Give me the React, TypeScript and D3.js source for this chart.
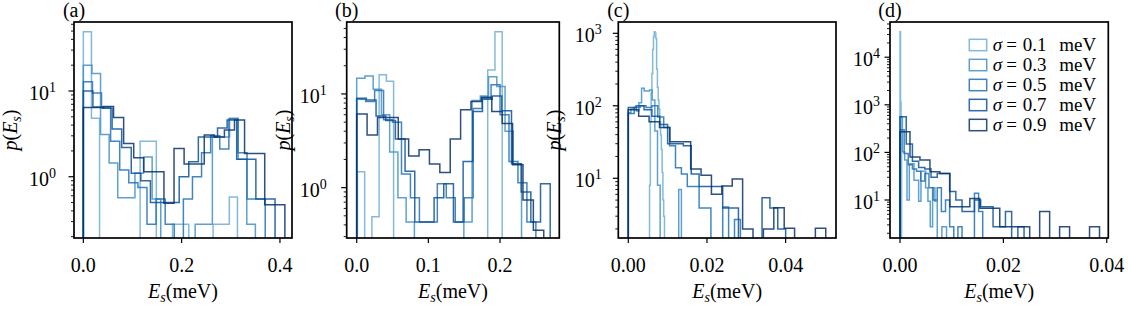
import React from "react";
import * as d3 from "d3";

// legend entries (sigma in meV)
const sigmas = ["0.1", "0.3", "0.5", "0.7", "0.9"];

// each series: bin range [lo, hi] split into equal bins, heights p(E_s) per bin
// panel (a)
const rangesA = [[0, 0.33], [0, 0.35], [0, 0.37], [0, 0.39], [0, 0.41]];
const heightsA = [
  [49, 4.8, 0, 0, 0, 0, 0, 2.6, 2.6, 0, 0, 0.28, 0.28, 0, 0, 0, 0.28, 0.28, 0.58, 0],
  [20, 16, 3.1, 1.45, 0.57, 0.57, 1.1, 1.7, 0.55, 0, 0, 0, 0, 0.28, 0.28, 2.9, 2.9, 4.8, 1.6, 0.28],
  [12.8, 9.5, 6.4, 2.6, 1.2, 0.85, 0.75, 0.28, 0.55, 0.28, 0, 0.55, 1.0, 1.9, 3.0, 2.1, 4.7, 1.9, 0.55, 0.55],
  [10, 6.5, 6.3, 3.6, 2.2, 1.1, 0.9, 0.5, 0.5, 0.5, 1.0, 1.5, 2.9, 2.9, 3.7, 4.6, 1.6, 1.6, 0.55, 0.55],
  [6.4, 6.4, 6.6, 4.9, 2.45, 1.67, 1.14, 1.14, 0.49, 2.14, 1.41, 1.41, 3.07, 2.9, 3.5, 4.6, 1.87, 1.87, 0.47, 0.47],
];

// panel (b)
const rangesB = [[0.001, 0.203], [0, 0.23], [0, 0.25], [0, 0.27], [0, 0.261]];
const heightsB = [
  [1.48, 0, 0.49, 16, 13.7, 0, 0, 0, 0, 0, 0, 0, 0, 0, 0, 0, 0, 0, 18, 46],
  [14.7, 15.5, 11.2, 6.0, 2.4, 0.78, 0.43, 0, 0, 0, 0, 0, 0, 0.43, 8.5, 9.5, 15.3, 12, 4, 1.8],
  [8.8, 8.3, 10.9, 5.3, 5.0, 1.4, 0.78, 0.43, 0.43, 1.1, 0.78, 0.43, 0.78, 7.0, 9.0, 12.5, 6.0, 1.9, 1.13, 0.43],
  [9, 8.6, 5.8, 5.2, 3.3, 1.5, 0.43, 0.43, 0.78, 1.1, 0.43, 1.9, 6.5, 8.8, 9.5, 6.6, 1.8, 0.9, 0.43, 1.1],
  [6.1, 3.65, 5.6, 5.6, 3.3, 2.18, 2.53, 1.79, 1.45, 3.3, 6.8, 8.3, 9.2, 6.5, 4.85, 1.75, 0.74, 0.35],
];

// panel (c)
const rangesC = [[0.0052, 0.0092], [0, 0.0135], [0, 0.03], [0, 0.04], [0, 0.0502]];
const heightsC = [
  [0, 8, 60, 150, 280, 600, 900, 1050, 1000, 850, 320, 180, 120, 90, 60, 40, 25, 12, 5, 3],
  [80, 90, 95, 85, 110, 175, 160, 160, 165, 120, 45, 8, 0, 0, 0, 0, 0, 0, 0, 7],
  [78, 95, 100, 95, 100, 70, 50, 28, 14, 11.5, 7.7, 7.7, 3.9, 3.9, 0, 0, 4.0, 0, 2.7, 0],
  [95, 100, 88, 72, 55, 30, 30, 28, 11.5, 7.7, 7.7, 7.7, 3.9, 3.9, 0, 0, 0, 5.4, 3.9, 2.0],
  [88, 72, 60, 50, 32, 32, 13.4, 11, 6, 7.8, 9.8, 2.0, 0, 2.0, 3.93, 2.04, 0, 0, 2.04],
];

// panel (d)
const rangesD = [[0, 0.0006], [0, 0.009], [0, 0.016], [0, 0.024], [0, 0.0386]];
const heightsD = [
  [34400, 1150, 280, 0, 0, 0],
  [560, 103, 69, 10, 58, 58, 26, 26, 9.4, 40, 40, 18, 9.4, 2.75, 18, 9.4, 0, 0, 2.75, 2.75],
  [300, 95, 55, 45, 40, 25, 36, 18, 10, 18, 5.7, 10, 2.75, 0, 2.75, 0, 0, 0, 13.8, 5.7],
  [560, 150, 65, 48, 45, 30, 36, 36, 15, 10, 5.7, 5.7, 10, 7.2, 7.2, 2.75, 2.75, 5.7, 0, 2.75],
  [272, 80, 69, 39, 36, 7.2, 7.2, 10.8, 6.7, 6.7, 2.75, 2.75, 2.75, 0, 5.7, 0, 2.75, 0, 0, 2.75],
];

const xTicksAB = [[0, 0.2, 0.4], [0, 0.1, 0.2]];
const xTicksCD = [0, 0.02, 0.04];

const panels = [
  { tag: "(a)", left: 74, right: 292, xd: [-0.019, 0.4245], yd: [0.193, 63.8], xt: xTicksAB[0], fmt: ".1f", ranges: rangesA, heights: heightsA, ylab: true, gap: 18 },
  { tag: "(b)", left: 346.7, right: 559.3, xd: [-0.01395, 0.2827], yd: [0.29, 58.6], xt: xTicksAB[1], fmt: ".1f", ranges: rangesB, heights: heightsB, ylab: true, gap: 20 },
  { tag: "(c)", left: 618.3, right: 836, xd: [-0.00254, 0.0528], yd: [1.5, 1432], xt: xTicksCD, fmt: ".2f", ranges: rangesC, heights: heightsC, ylab: true, gap: 16.5 },
  { tag: "(d)", left: 890, right: 1108.3, xd: [-0.00194, 0.0403], yd: [1.59, 55000], xt: xTicksCD, fmt: ".2f", ranges: rangesD, heights: heightsD, ylab: false, gap: 10 },
];

const TOP = 22;
const BOT = 238;
const FONT = "'Liberation Serif', 'DejaVu Serif', serif";
const colors = [0.5, 0.625, 0.75, 0.875, 1.0].map((t) => d3.interpolateBlues(t));

function Panel({ p, idx }) {
  const x = d3.scaleLinear().domain(p.xd).range([p.left, p.right]);
  const y = d3.scaleLog().domain(p.yd).range([BOT, TOP]);
  const yOf = (v) => (v > 0 ? y(v) : BOT + 20);
  const line = d3
    .line()
    .x((d) => x(d[0]))
    .y((d) => yOf(d[1]))
    .curve(d3.curveStepAfter);

  const lo = Math.floor(Math.log10(p.yd[0]));
  const hi = Math.ceil(Math.log10(p.yd[1]));
  const majors = [];
  const minors = [];
  for (let e = lo; e <= hi; e++) {
    const base = Math.pow(10, e);
    if (base >= p.yd[0] && base <= p.yd[1]) majors.push(e);
    for (let k = 2; k <= 9; k++) {
      const v = k * base;
      if (v >= p.yd[0] && v <= p.yd[1]) minors.push(v);
    }
  }
  const fmt = d3.format(p.fmt);
  const cx = (p.left + p.right) / 2;
  const clipId = `clip${idx}`;

  return (
    <g>
      <defs>
        <clipPath id={clipId}>
          <rect x={p.left} y={TOP} width={p.right - p.left} height={BOT - TOP} />
        </clipPath>
      </defs>
      <g clipPath={`url(#${clipId})`}>
        {p.heights.map((h, s) => {
          const [a, b] = p.ranges[s];
          const w = (b - a) / h.length;
          // step outline: up from the floor, across every bin, back down
          const pts = [[a, 0]];
          h.forEach((v, i) => pts.push([a + i * w, v]));
          pts.push([b, h[h.length - 1]]);
          pts.push([b, 0]);
          return (
            <path
              key={s}
              d={line(pts)}
              fill="none"
              stroke={colors[s]}
              strokeOpacity={0.85}
              strokeWidth={1.5}
            />
          );
        })}
      </g>
      <rect x={p.left} y={TOP} width={p.right - p.left} height={BOT - TOP} fill="none" stroke="#000" strokeWidth={1.7} />
      {p.xt.map((t) => (
        <g key={t}>
          <line x1={x(t)} x2={x(t)} y1={BOT} y2={BOT + 5} stroke="#000" strokeWidth={1.2} />
          <text x={x(t)} y={271.5} textAnchor="middle" fontSize={20} fontFamily={FONT}>
            {fmt(t)}
          </text>
        </g>
      ))}
      {minors.map((v) => (
        <line key={v} x1={p.left - 3} x2={p.left} y1={y(v)} y2={y(v)} stroke="#000" strokeWidth={0.9} />
      ))}
      {majors.map((e) => (
        <g key={e}>
          <line x1={p.left - 5.5} x2={p.left} y1={y(Math.pow(10, e))} y2={y(Math.pow(10, e))} stroke="#000" strokeWidth={1.2} />
          <text x={p.left - p.gap} y={y(Math.pow(10, e)) + 9} textAnchor="end" fontSize={20} fontFamily={FONT}>
            <tspan>10</tspan>
            <tspan dy={-8} fontSize={14}>{e}</tspan>
          </text>
        </g>
      ))}
      <text x={cx} y={298} textAnchor="middle" fontSize={20} fontFamily={FONT}>
        <tspan fontStyle="italic">E</tspan>
        <tspan dy={4} fontSize={14} fontStyle="italic">s</tspan>
        <tspan dy={-4}>(meV)</tspan>
      </text>
      {p.ylab && (
        <text transform={`translate(${p.left - 57},130) rotate(-90)`} textAnchor="middle" fontSize={20} fontFamily={FONT}>
          <tspan fontStyle="italic">p</tspan>
          <tspan>(</tspan>
          <tspan fontStyle="italic">E</tspan>
          <tspan dy={4} fontSize={14} fontStyle="italic">s</tspan>
          <tspan dy={-4}>)</tspan>
        </text>
      )}
      <text x={p.left} y={17} textAnchor="middle" fontSize={20} fontFamily={FONT}>
        {p.tag}
      </text>
    </g>
  );
}

function Legend() {
  const x0 = 969.3;
  const y0 = 39.3;
  return (
    <g>
      {sigmas.map((s, i) => (
        <g key={s} transform={`translate(${x0},${y0 + i * 20})`}>
          <rect x={0} y={0} width={17.4} height={11.4} fill="none" stroke={colors[i]} strokeOpacity={0.85} strokeWidth={1.5} />
          <text y={11.5} fontSize={19} fontFamily={FONT}>
            <tspan x={23.5} fontStyle="italic">σ</tspan>
            <tspan x={37}>=</tspan>
            <tspan x={53.5}>{s}</tspan>
            <tspan x={90}>meV</tspan>
          </text>
        </g>
      ))}
    </g>
  );
}

export default function App() {
  return (
    <svg
      width={1128}
      height={309}
      style={{ position: "absolute", left: 0, top: 0, display: "block", background: "#fff" }}
    >
      {panels.map((p, i) => (
        <Panel key={p.tag} p={p} idx={i} />
      ))}
      <Legend />
    </svg>
  );
}
